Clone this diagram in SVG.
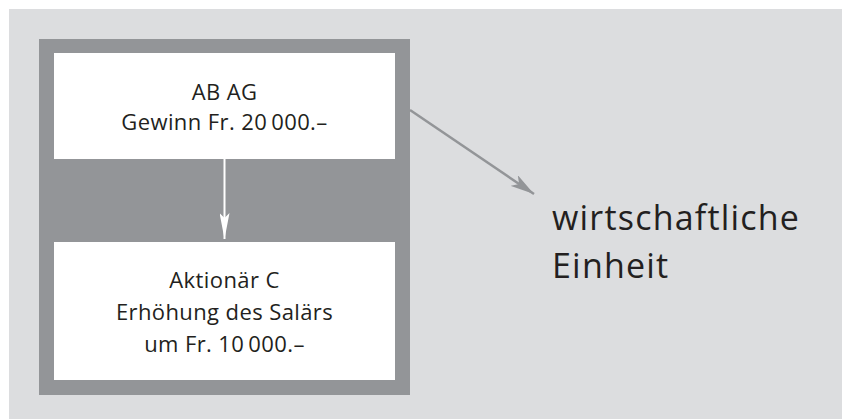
<svg xmlns="http://www.w3.org/2000/svg" width="842" height="419" viewBox="0 0 842 419">
<defs>
<style>
.t{font-family:"Open Sans","Noto Sans","Liberation Sans",sans-serif;font-size:22px;letter-spacing:0.4px;fill:#231f20;text-anchor:middle}
.big{font-family:"Open Sans","Noto Sans","Liberation Sans",sans-serif;font-size:34px;letter-spacing:1.2px;fill:#231f20}
.box{fill:#ffffff}
</style>
<marker id="ahw" viewBox="0 0 26 10" refX="26" refY="5" markerWidth="26" markerHeight="10" markerUnits="userSpaceOnUse" orient="auto">
<path d="M0,0 L26,5 L0,10 L5,5 Z" fill="#ffffff"/>
</marker>
<marker id="ahg" viewBox="0 0 24 13" refX="24" refY="6.5" markerWidth="24" markerHeight="13" markerUnits="userSpaceOnUse" orient="auto">
<path d="M0,0 L24,6.5 L0,13 L6,6.5 Z" fill="#939598"/>
</marker>
</defs>
<rect x="9" y="9" width="833" height="410" fill="#dcdddf"/>
<g id="frame"><rect x="39" y="39" width="371" height="356" fill="#939598"/></g>
<g id="node-ab-ag">
<rect class="box" x="54" y="53" width="341" height="106"/>
<text class="t" x="224.5" y="100">AB AG</text>
<text class="t" x="224.5" y="130">Gewinn Fr. 20&#8201;000.–</text>
</g>
<g id="node-aktionaer">
<rect class="box" x="54" y="242" width="341" height="138"/>
<text class="t" x="224.5" y="288">Aktionär C</text>
<text class="t" x="224.5" y="320">Erhöhung des Salärs</text>
<text class="t" x="224.5" y="352">um Fr. 10&#8201;000.–</text>
</g>
<g id="node-einheit">
<text class="big" x="552" y="230">wirtschaftliche</text>
<text class="big" x="552" y="278">Einheit</text>
</g>
<g id="connectors">
<line x1="224.5" y1="159" x2="224.5" y2="239" stroke="#ffffff" stroke-width="2" marker-end="url(#ahw)"/>
<line x1="410" y1="110" x2="534" y2="194" stroke="#939598" stroke-width="2.5" marker-end="url(#ahg)"/>
</g>
</svg>
